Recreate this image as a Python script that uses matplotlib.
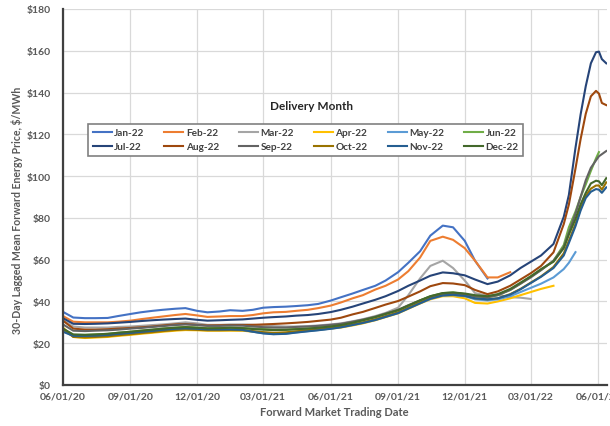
import matplotlib
matplotlib.use("Agg")
import matplotlib.pyplot as plt
import matplotlib.dates as mdates
from matplotlib.ticker import MultipleLocator, FuncFormatter
import pandas as pd

# Trading dates: semi-monthly through mid-April 2022, then weekly to the end
trade_dates = list(pd.date_range("2020-06-01", "2022-04-15", freq="SMS")) + [
    pd.Timestamp(d) for d in ["2022-04-22", "2022-05-01", "2022-05-08", "2022-05-15",
                              "2022-05-22", "2022-05-29", "2022-06-02", "2022-06-06",
                              "2022-06-12"]]

delivery_months = ["Jan-22", "Feb-22", "Mar-22", "Apr-22", "May-22", "Jun-22",
                   "Jul-22", "Aug-22", "Sep-22", "Oct-22", "Nov-22", "Dec-22"]

jan22 = [35, 32.3, 32, 32, 32.1, 33, 34, 34.8, 35.5, 36,
         36.5, 36.8, 35.5, 34.8, 35.2, 35.8, 35.5, 36, 37, 37.3,
         37.5, 37.8, 38.2, 38.8, 40.4, 42, 43.8, 45.5, 47.5, 50,
         54, 58.5, 64, 71.5, 76.3, 75.5, 69, 59.5, 51]
feb22 = [33, 30.3, 30, 30, 30, 30.3, 30.8, 31.5, 32.2, 32.8,
         33.5, 34, 33.3, 32.6, 32.8, 33, 33, 33.5, 34.3, 34.8,
         35, 35.5, 36, 36.8, 38, 39.5, 41.5, 43, 45.7, 47.5,
         50.5, 54.5, 61, 69, 71, 69.5, 65.5, 59.5, 51.5, 51.5,
         54]
mar22 = [31, 28, 27.5, 27.5, 27.5, 27.8, 28, 28.3, 28.7, 29,
         29.5, 30, 29.5, 28.8, 28.8, 29, 29, 28.8, 28.5, 28.2,
         28, 28, 28.2, 28.5, 29, 29.5, 30.5, 31.5, 33, 34.5,
         37, 43, 51, 57, 59.5, 56, 50, 44, 42.7, 43.3,
         42, 41.8, 41.2]
apr22 = [27.5, 23, 22.5, 22.7, 23, 23.5, 24, 24.5, 25, 25.5,
         26, 26.3, 26.2, 26, 26, 26, 26, 25.5, 25, 24.8,
         25, 25.5, 26, 26.5, 27, 27.5, 28.5, 29.5, 31, 32.5,
         34.3, 36.5, 39, 41, 42.5, 42.5, 41.5, 39.3, 39, 40,
         41.5, 43, 44.5, 46, 47.5]
may22 = [26, 23.5, 23.5, 23.5, 23.8, 24.3, 24.8, 25.3, 25.8, 26.3,
         26.8, 27, 26.8, 26.5, 26.5, 26.5, 26.3, 25.5, 24.8, 24.4,
         24.6, 25.2, 25.8, 26.3, 27, 27.7, 28.8, 29.8, 31.2, 32.7,
         34.5, 36.8, 39.2, 41.2, 42.8, 43, 42.5, 41, 40.5, 41,
         42.5, 44.5, 46.5, 48.5, 51.5, 55.5, 58.5, 63.6]
jun22 = [26.5, 24, 24, 24.2, 24.5, 25, 25.5, 26, 26.5, 27,
         27.5, 27.8, 27.5, 27.2, 27.3, 27.5, 27.3, 27, 26.8, 26.5,
         26.5, 26.8, 27, 27.5, 28, 28.7, 29.8, 31, 32.5, 34,
         35.8, 38, 40.5, 42.5, 44, 44.3, 43.5, 42.5, 42, 43,
         45.5, 48.5, 52, 55, 59.5, 67, 75.5, 83, 90, 96,
         102.5, 108.5, 111.5]
jul22 = [32, 29.3, 29.2, 29.3, 29.5, 29.8, 30.2, 30.6, 31, 31.3,
         31.6, 31.8, 31.2, 30.8, 31, 31.2, 31.4, 31.8, 32.2, 32.5,
         32.8, 33.2, 33.5, 34, 34.9, 36, 37.5, 39, 40.8, 42.5,
         45, 47.5, 50, 52.3, 53.9, 53.5, 52.5, 50.5, 48.3, 49.5,
         52.5, 56, 59, 62, 67.5, 80.5, 91, 113.5, 129.5, 143,
         154, 159.3, 159.6, 156, 154]
aug22 = [30.8, 27, 26.5, 26.5, 26.7, 27, 27.3, 27.6, 28, 28.5,
         29, 29.2, 28.8, 28.5, 28.6, 28.7, 28.7, 28.8, 29, 29.2,
         29.5, 29.8, 30.2, 30.7, 31.3, 32.2, 33.8, 35, 36.9, 38.5,
         40.2, 42.3, 44.8, 47.3, 48.8, 48.6, 47.8, 45.5, 43.5, 44.8,
         47.5, 50.5, 53.5, 57, 63.5, 77, 86.4, 103.6, 117.7, 129.8,
         138.2, 140.8, 139.5, 135, 134]
sep22 = [29, 26, 25.8, 26, 26.2, 26.5, 27, 27.3, 27.8, 28.2,
         28.7, 29, 28.7, 28.3, 28.3, 28.5, 28.4, 28, 27.7, 27.5,
         27.5, 27.8, 28, 28.3, 28.8, 29.3, 30.3, 31.3, 32.7, 34.2,
         36, 38.2, 40.5, 42.3, 43.8, 44, 43.5, 42.5, 42, 43,
         45.5, 48.5, 51.5, 55, 59.5, 66, 73, 82, 90, 98,
         104, 107.5, 109.5, 110.5, 112]
oct22 = [27, 23, 22.8, 23, 23.3, 23.8, 24.3, 24.8, 25.3, 25.8,
         26.3, 26.6, 26.4, 26.2, 26.2, 26.3, 26.2, 25.8, 25.3, 25,
         25.2, 25.7, 26.2, 26.7, 27.3, 28, 29, 30, 31.5, 33,
         34.8, 37, 39.5, 41.5, 43, 43.2, 42.8, 41.5, 41, 41.5,
         43.5, 46, 49, 52, 56.5, 63, 69, 77, 84.5, 90.5,
         94, 95.5, 95.5, 93.5, 97]
nov22 = [25.5, 23.5, 23.5, 23.6, 23.9, 24.4, 24.9, 25.4, 25.9, 26.4,
         26.9, 27.1, 26.9, 26.6, 26.6, 26.6, 26.4, 25.5, 24.7, 24.3,
         24.5, 25.1, 25.7, 26.2, 26.9, 27.6, 28.7, 29.7, 31.1, 32.6,
         34.4, 36.6, 39.1, 41.3, 42.9, 43.2, 42.7, 41.5, 41, 41.5,
         43.3, 45.8, 48.8, 51.8, 56, 62, 68, 76, 83.5, 89.5,
         92.5, 93.8, 93.5, 92, 94.6]
dec22 = [27, 24.2, 24, 24.2, 24.5, 25, 25.5, 26, 26.5, 27,
         27.4, 27.7, 27.4, 27.1, 27.2, 27.4, 27.2, 26.8, 26.5, 26.3,
         26.4, 26.7, 27, 27.4, 28, 28.7, 29.8, 31, 32.5, 34,
         35.8, 38, 40.5, 42.5, 44, 44.3, 43.8, 43, 42.5, 43.5,
         46, 49, 52, 55.5, 59, 65.5, 72, 79.5, 86.5, 92,
         96.5, 97.8, 97.5, 95.7, 99]

series = [jan22, feb22, mar22, apr22, may22, jun22,
          jul22, aug22, sep22, oct22, nov22, dec22]
colors = ["#4472C4", "#ED7D31", "#A5A5A5", "#FFC000", "#5B9BD5", "#70AD47",
          "#264478", "#9E480E", "#636363", "#997300", "#255E91", "#43682B"]

FONT = ["Lato", "DejaVu Sans"]
TXT = "#595959"

fig = plt.figure(figsize=(6.10, 4.27), dpi=100)
ax = fig.add_axes([63 / 610, 41 / 427, 544 / 610, 376 / 427])

handles = []
for name, vals, col in zip(delivery_months, series, colors):
    h, = ax.plot(trade_dates[:len(vals)], vals, color=col, lw=1.5,
                 solid_joinstyle="round", label=name)
    handles.append(h)

ax.set_xlim(pd.Timestamp("2020-06-01"), pd.Timestamp("2022-06-13"))
ax.set_ylim(0, 180)
ax.yaxis.set_major_locator(MultipleLocator(20))
ax.yaxis.set_major_formatter(FuncFormatter(lambda v, p: f"${v:.0f}"))
ax.xaxis.set_major_locator(mdates.MonthLocator(bymonth=[3, 6, 9, 12], bymonthday=1))
ax.xaxis.set_major_formatter(mdates.DateFormatter("%m/%d/%y"))

ax.grid(True, color="#D9D9D9", lw=0.9)
ax.set_axisbelow(True)
for s in ("top", "right"):
    ax.spines[s].set_visible(False)
for s in ("left", "bottom"):
    ax.spines[s].set_color("#404040")
    ax.spines[s].set_linewidth(1.6)
ax.tick_params(length=0, labelsize=7.5, labelcolor=TXT)
ax.tick_params(axis="y", pad=9)
ax.tick_params(axis="x", pad=5)
for lab in ax.get_xticklabels() + ax.get_yticklabels():
    lab.set_fontfamily(FONT)
    lab.set_fontweight("bold")

fig.text(17 / 610, 1 - 210 / 427, "30-Day Lagged Mean Forward Energy Price, $/MWh",
         rotation=90, ha="center", va="center", fontsize=7.6, fontweight="bold",
         color=TXT, family=FONT)
fig.text(334 / 610, 1 - 413 / 427, "Forward Market Trading Date",
         ha="center", va="center", fontsize=8, fontweight="bold",
         color=TXT, family=FONT)

# Legend: two rows of six, filled row by row
order = [0, 6, 1, 7, 2, 8, 3, 9, 4, 10, 5, 11]
leg = ax.legend([handles[i] for i in order], [delivery_months[i] for i in order],
                ncol=6, loc="lower left", mode="expand",
                bbox_to_anchor=((88 - 63) / 544, (386 - 157) / 376,
                                435 / 544, 36 / 376),
                borderaxespad=0, frameon=True, fancybox=False,
                handlelength=1.9, handletextpad=0.25, columnspacing=1.0,
                labelspacing=0.5, borderpad=0.45,
                prop={"family": FONT, "weight": "bold", "size": 7.2})
leg.get_frame().set_edgecolor("#808080")
leg.get_frame().set_linewidth(1.2)
leg.get_frame().set_alpha(1)
for t in leg.get_texts():
    t.set_color("#404040")
ax.text((311 - 63) / 544, (386 - 107) / 376, "Delivery Month", transform=ax.transAxes,
        ha="center", va="center", fontsize=8.5, fontweight="bold", color="#262626",
        family=FONT)

fig.savefig("out.png", dpi=100)
